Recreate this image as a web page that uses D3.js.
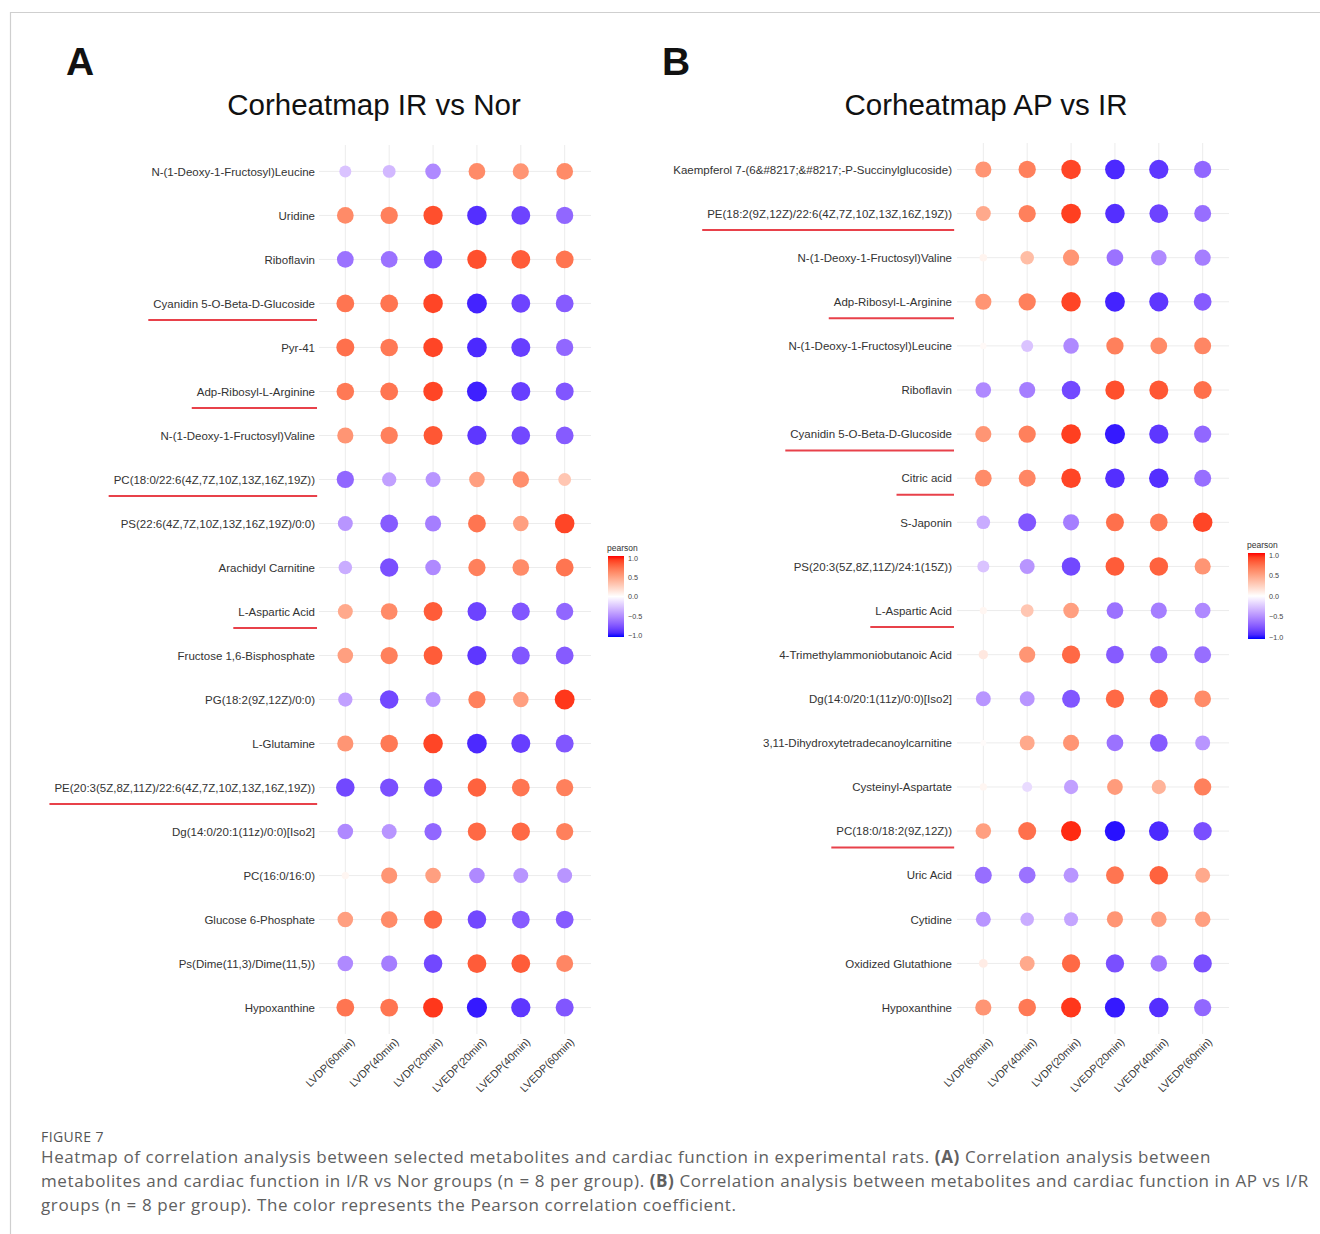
<!DOCTYPE html>
<html>
<head>
<meta charset="utf-8">
<script src="https://cdn.jsdelivr.net/npm/d3@7"></script>
<style>
  body { margin: 0; background: #fff; }
  svg { display: block; }
</style>
</head>
<body>
<div id="chart"></div>
<script>
// columns (cardiac function measures)
const measures = ["LVDP(60min)", "LVDP(40min)", "LVDP(20min)", "LVEDP(20min)", "LVEDP(40min)", "LVEDP(60min)"];

// panel A: IR vs Nor
const metabolitesA = [
  "N-(1-Deoxy-1-Fructosyl)Leucine", "Uridine", "Riboflavin", "Cyanidin 5-O-Beta-D-Glucoside", "Pyr-41",
  "Adp-Ribosyl-L-Arginine", "N-(1-Deoxy-1-Fructosyl)Valine", "PC(18:0/22:6(4Z,7Z,10Z,13Z,16Z,19Z))",
  "PS(22:6(4Z,7Z,10Z,13Z,16Z,19Z)/0:0)", "Arachidyl Carnitine", "L-Aspartic Acid", "Fructose 1,6-Bisphosphate",
  "PG(18:2(9Z,12Z)/0:0)", "L-Glutamine", "PE(20:3(5Z,8Z,11Z)/22:6(4Z,7Z,10Z,13Z,16Z,19Z))",
  "Dg(14:0/20:1(11z)/0:0)[Iso2]", "PC(16:0/16:0)", "Glucose 6-Phosphate", "Ps(Dime(11,3)/Dime(11,5))", "Hypoxanthine"
];
const pearsonA = [
  [-0.25, -0.30, -0.50, 0.60, 0.55, 0.60],
  [0.60, 0.65, 0.85, -0.88, -0.80, -0.65],
  [-0.60, -0.60, -0.75, 0.85, 0.80, 0.70],
  [0.70, 0.70, 0.88, -0.92, -0.80, -0.70],
  [0.72, 0.68, 0.88, -0.90, -0.82, -0.65],
  [0.68, 0.70, 0.88, -0.93, -0.82, -0.72],
  [0.55, 0.65, 0.82, -0.85, -0.78, -0.70],
  [-0.65, -0.40, -0.45, 0.50, 0.58, 0.30],
  [-0.45, -0.70, -0.55, 0.70, 0.50, 0.88],
  [-0.35, -0.75, -0.50, 0.65, 0.60, 0.70],
  [0.45, 0.60, 0.80, -0.80, -0.72, -0.65],
  [0.50, 0.65, 0.80, -0.85, -0.72, -0.70],
  [-0.40, -0.78, -0.45, 0.65, 0.50, 0.92],
  [0.55, 0.68, 0.88, -0.90, -0.82, -0.72],
  [-0.78, -0.75, -0.75, 0.78, 0.70, 0.65],
  [-0.50, -0.45, -0.65, 0.75, 0.75, 0.65],
  [0.05, 0.55, 0.50, -0.50, -0.45, -0.45],
  [0.50, 0.60, 0.75, -0.78, -0.70, -0.70],
  [-0.50, -0.55, -0.78, 0.80, 0.80, 0.62],
  [0.70, 0.70, 0.92, -0.95, -0.85, -0.72]
];
const underlinedA = ["Cyanidin 5-O-Beta-D-Glucoside", "Adp-Ribosyl-L-Arginine", "PC(18:0/22:6(4Z,7Z,10Z,13Z,16Z,19Z))",
  "L-Aspartic Acid", "PE(20:3(5Z,8Z,11Z)/22:6(4Z,7Z,10Z,13Z,16Z,19Z))"];

// panel B: AP vs IR
const metabolitesB = [
  "Kaempferol 7-(6&#8217;&#8217;-P-Succinylglucoside)", "PE(18:2(9Z,12Z)/22:6(4Z,7Z,10Z,13Z,16Z,19Z))",
  "N-(1-Deoxy-1-Fructosyl)Valine", "Adp-Ribosyl-L-Arginine", "N-(1-Deoxy-1-Fructosyl)Leucine", "Riboflavin",
  "Cyanidin 5-O-Beta-D-Glucoside", "Citric acid", "S-Japonin", "PS(20:3(5Z,8Z,11Z)/24:1(15Z))", "L-Aspartic Acid",
  "4-Trimethylammoniobutanoic Acid", "Dg(14:0/20:1(11z)/0:0)[Iso2]", "3,11-Dihydroxytetradecanoylcarnitine",
  "Cysteinyl-Aspartate", "PC(18:0/18:2(9Z,12Z))", "Uric Acid", "Cytidine", "Oxidized Glutathione", "Hypoxanthine"
];
const pearsonB = [
  [0.55, 0.65, 0.88, -0.90, -0.85, -0.65],
  [0.45, 0.65, 0.90, -0.88, -0.80, -0.62],
  [0.06, 0.35, 0.55, -0.60, -0.50, -0.55],
  [0.55, 0.65, 0.88, -0.92, -0.85, -0.70],
  [0.03, -0.25, -0.50, 0.65, 0.60, 0.62],
  [-0.50, -0.55, -0.78, 0.85, 0.82, 0.72],
  [0.55, 0.65, 0.90, -0.95, -0.85, -0.65],
  [0.60, 0.62, 0.88, -0.88, -0.88, -0.62],
  [-0.35, -0.72, -0.55, 0.72, 0.68, 0.88],
  [-0.25, -0.45, -0.78, 0.80, 0.78, 0.55],
  [0.05, 0.30, 0.50, -0.60, -0.55, -0.50],
  [0.12, 0.55, 0.75, -0.70, -0.65, -0.62],
  [-0.45, -0.45, -0.72, 0.75, 0.75, 0.60],
  [0.02, 0.45, 0.55, -0.60, -0.70, -0.45],
  [0.05, -0.15, -0.40, 0.52, 0.40, 0.65],
  [0.50, 0.72, 0.95, -0.97, -0.90, -0.75],
  [-0.62, -0.60, -0.45, 0.70, 0.78, 0.45],
  [-0.45, -0.35, -0.38, 0.55, 0.50, 0.50],
  [0.10, 0.45, 0.75, -0.75, -0.58, -0.75],
  [0.55, 0.68, 0.92, -0.95, -0.88, -0.65]
];
const underlinedB = ["PE(18:2(9Z,12Z)/22:6(4Z,7Z,10Z,13Z,16Z,19Z))", "Adp-Ribosyl-L-Arginine", "Cyanidin 5-O-Beta-D-Glucoside",
  "Citric acid", "L-Aspartic Acid", "PC(18:0/18:2(9Z,12Z))"];

const legendTicks = [1.0, 0.5, 0.0, -0.5, -1.0];

const width = 1320, height = 1234;
const font = "'Liberation Sans', Arial, sans-serif";

const svg = d3.select("#chart").append("svg")
    .attr("width", width)
    .attr("height", height);

// page frame
svg.append("line").attr("x1", 10).attr("x2", width).attr("y1", 12.5).attr("y2", 12.5)
    .attr("stroke", "#cfcfcf").attr("stroke-width", 1.2);
svg.append("line").attr("x1", 10.5).attr("x2", 10.5).attr("y1", 12).attr("y2", height)
    .attr("stroke", "#cfcfcf").attr("stroke-width", 1.2);

const color = d3.scaleLinear()
    .domain([-1, 0, 1])
    .range(["blue", "white", "red"])
    .interpolate(d3.interpolateLab);

const size = d3.scaleSqrt().domain([0, 1]).range([1.7, 10.3]);

const defs = svg.append("defs");
const grad = defs.append("linearGradient").attr("id", "pearsonGrad")
    .attr("x1", 0).attr("x2", 0).attr("y1", 0).attr("y2", 1);
d3.range(0, 1.0001, 0.05).forEach(t => {
    grad.append("stop").attr("offset", t).attr("stop-color", color(1 - 2 * t));
});

function drawPanel(cfg) {
    const g = svg.append("g");

    const x = d3.scalePoint().domain(measures).range(cfg.xRange).padding(0.6);
    const y = d3.scalePoint().domain(cfg.rows).range(cfg.yRange).padding(0.6);

    // panel letter + title
    g.append("text")
        .attr("x", cfg.letterX).attr("y", 75)
        .attr("font-family", font).attr("font-weight", "bold").attr("font-size", 39)
        .attr("fill", "#111")
        .text(cfg.letter);
    g.append("text")
        .attr("x", cfg.titleX).attr("y", 115)
        .attr("text-anchor", "middle")
        .attr("font-family", font).attr("font-size", 29.5)
        .attr("fill", "#111")
        .text(cfg.title);

    // grid
    g.append("g").selectAll("line.v").data(measures).join("line")
        .attr("x1", d => x(d)).attr("x2", d => x(d))
        .attr("y1", cfg.yRange[0]).attr("y2", cfg.yRange[1])
        .attr("stroke", "#ececec").attr("stroke-width", 1);
    g.append("g").selectAll("line.h").data(cfg.rows).join("line")
        .attr("y1", d => y(d)).attr("y2", d => y(d))
        .attr("x1", cfg.xRange[0]).attr("x2", cfg.xRange[1])
        .attr("stroke", "#ececec").attr("stroke-width", 1);

    // y axis labels
    const yAxis = g.append("g")
        .attr("transform", `translate(${cfg.xRange[0]},0)`)
        .call(d3.axisLeft(y).tickSize(0).tickPadding(cfg.pad));
    yAxis.select(".domain").remove();
    yAxis.selectAll("text")
        .attr("font-family", font).attr("font-size", 11.5).attr("fill", "#333");

    // red underlines under selected labels
    yAxis.selectAll(".tick").each(function(d) {
        if (!cfg.underlined.includes(d)) return;
        const t = d3.select(this).select("text");
        const bb = t.node().getBBox();
        d3.select(this).append("line")
            .attr("x1", bb.x - 5).attr("x2", bb.x + bb.width + 2)
            .attr("y1", 16).attr("y2", 16)
            .attr("stroke", "#e8414a").attr("stroke-width", 2);
    });

    // x axis labels
    const xAxis = g.append("g")
        .attr("transform", `translate(0,${cfg.yRange[1]})`)
        .call(d3.axisBottom(x).tickSize(0).tickPadding(0));
    xAxis.select(".domain").remove();
    xAxis.selectAll("text")
        .attr("font-family", font).attr("font-size", 10.8).attr("fill", "#333")
        .attr("text-anchor", "end")
        .attr("dy", "0.6em")
        .attr("transform", "translate(5,4) rotate(-45)");

    // dots
    const cells = [];
    cfg.rows.forEach((r, i) => measures.forEach((m, j) => cells.push({ row: r, col: m, v: cfg.values[i][j] })));
    g.append("g").selectAll("circle").data(cells).join("circle")
        .attr("cx", d => x(d.col))
        .attr("cy", d => y(d.row))
        .attr("r", d => size(Math.abs(d.v)))
        .attr("fill", d => color(d.v));

    // legend
    const lg = g.append("g");
    const [lx, ly0, ly1, lw] = cfg.legend;
    lg.append("text")
        .attr("x", lx - 1).attr("y", ly0 - 5)
        .attr("font-family", font).attr("font-size", 8.5).attr("fill", "#333")
        .text("pearson");
    lg.append("rect")
        .attr("x", lx).attr("y", ly0).attr("width", lw).attr("height", ly1 - ly0)
        .attr("fill", "url(#pearsonGrad)");
    const ls = d3.scaleLinear().domain([1, -1]).range([ly0 + 2, ly1 - 2]);
    const la = lg.append("g")
        .attr("transform", `translate(${lx + lw},0)`)
        .call(d3.axisRight(ls).tickValues(legendTicks).tickSize(0).tickPadding(4).tickFormat(d3.format(".1f")));
    la.select(".domain").remove();
    la.selectAll("text").attr("font-family", font).attr("font-size", 7.2).attr("fill", "#444");
}

drawPanel({
    letter: "A", letterX: 66, title: "Corheatmap IR vs Nor", titleX: 374,
    rows: metabolitesA, values: pearsonA, underlined: underlinedA,
    xRange: [319, 591], yRange: [145, 1034], pad: 4,
    legend: [608, 556, 637, 16]
});
drawPanel({
    letter: "B", letterX: 662, title: "Corheatmap AP vs IR", titleX: 986,
    rows: metabolitesB, values: pearsonB, underlined: underlinedB,
    xRange: [957, 1229], yRange: [143, 1034], pad: 5,
    legend: [1248, 553, 639, 17]
});

// caption
const capFont = "'Open Sans', 'Noto Sans', sans-serif";
svg.append("text")
    .attr("x", 41).attr("y", 1142)
    .attr("font-family", capFont).attr("font-size", 14).attr("fill", "#555")
    .attr("letter-spacing", 0.4)
    .text("FIGURE 7");

const captionLines = [
    [["Heatmap of correlation analysis between selected metabolites and cardiac function in experimental rats. ", false], ["(A)", true], [" Correlation analysis between", false]],
    [["metabolites and cardiac function in I/R vs Nor groups (n = 8 per group). ", false], ["(B)", true], [" Correlation analysis between metabolites and cardiac function in AP vs I/R", false]],
    [["groups (n = 8 per group). The color represents the Pearson correlation coefficient.", false]]
];
captionLines.forEach((parts, i) => {
    const t = svg.append("text")
        .attr("x", 41).attr("y", 1163 + i * 24)
        .attr("font-family", capFont).attr("font-size", 17).attr("fill", "#606060")
        .attr("letter-spacing", 0.6)
        .attr("xml:space", "preserve");
    parts.forEach(([s, b]) => {
        t.append("tspan").attr("font-weight", b ? "bold" : "normal").text(s);
    });
});
</script>
</body>
</html>
